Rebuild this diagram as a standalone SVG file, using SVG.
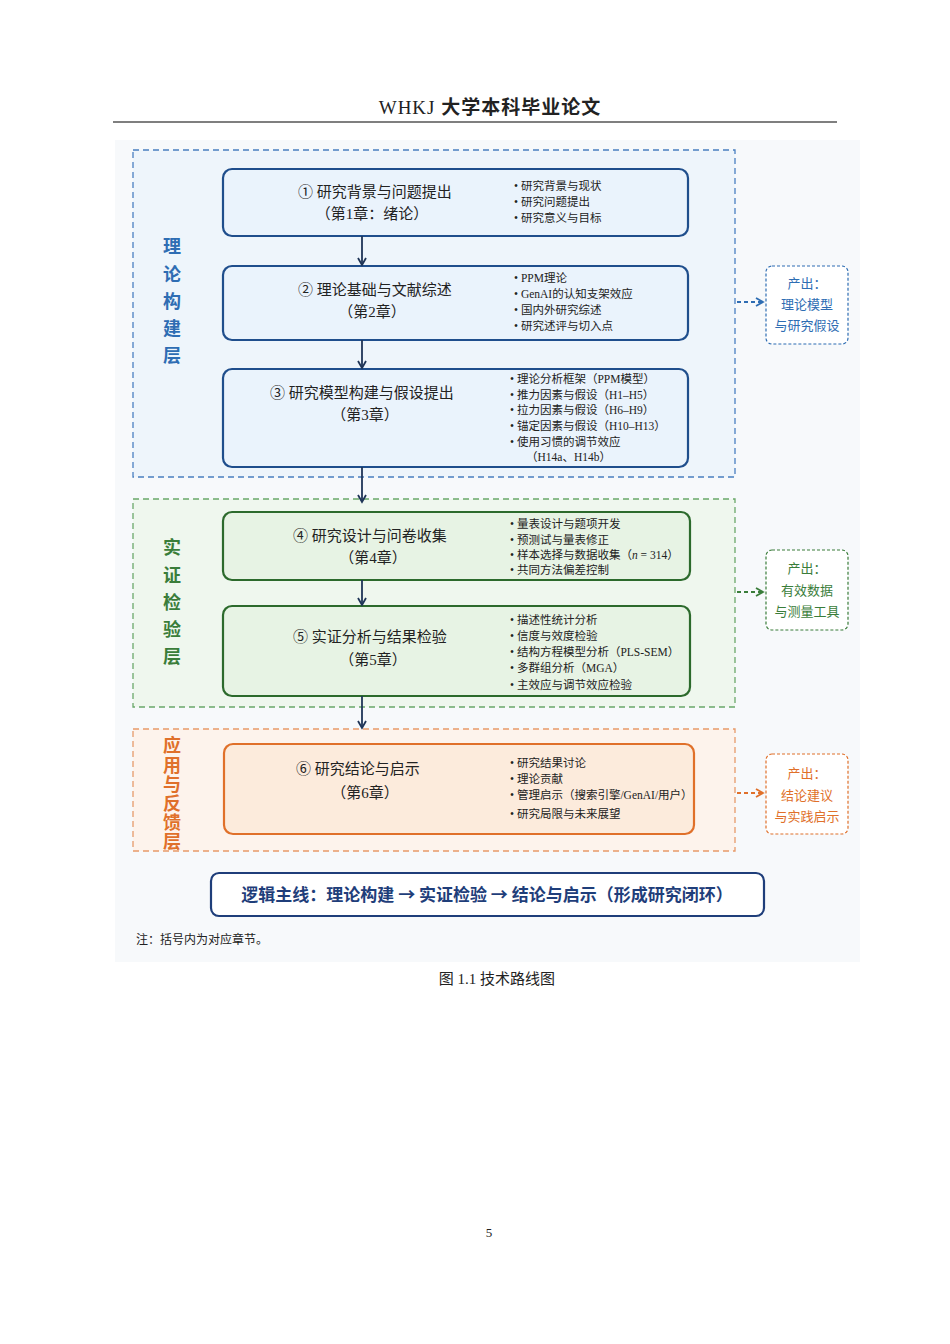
<svg xmlns="http://www.w3.org/2000/svg" width="950" height="1344" viewBox="0 0 950 1344">
<defs>
<style>
text{font-family:"Liberation Serif","Noto Sans CJK SC",serif;fill:#222}
.t{font-size:15px;text-anchor:middle}
.b{font-size:11.5px}
.lay{font-size:18px;font-weight:bold;text-anchor:middle}
.out{font-size:13px;text-anchor:middle}
</style>
<marker id="ad" markerWidth="10" markerHeight="10" refX="8" refY="5" orient="auto" markerUnits="userSpaceOnUse"><path d="M1,1 L8,5 L1,9" fill="none" stroke="#1f3557" stroke-width="1.8"/></marker>
<marker id="ab" markerWidth="10" markerHeight="10" refX="8" refY="5" orient="auto" markerUnits="userSpaceOnUse"><path d="M1,1 L8,5 L1,9" fill="none" stroke="#2e6db3" stroke-width="1.8"/></marker>
<marker id="ag" markerWidth="10" markerHeight="10" refX="8" refY="5" orient="auto" markerUnits="userSpaceOnUse"><path d="M1,1 L8,5 L1,9" fill="none" stroke="#3a7d3a" stroke-width="1.8"/></marker>
<marker id="ao" markerWidth="10" markerHeight="10" refX="8" refY="5" orient="auto" markerUnits="userSpaceOnUse"><path d="M1,1 L8,5 L1,9" fill="none" stroke="#e0702a" stroke-width="1.8"/></marker>
</defs>
<rect width="950" height="1344" fill="#fff"/>
<text x="490" y="114" style="font-size:19px;text-anchor:middle;letter-spacing:1px">WHKJ <tspan font-weight="bold">大学本科毕业论文</tspan></text>
<line x1="113" y1="122" x2="837" y2="122" stroke="#000" stroke-width="1.2"/>
<rect x="115" y="140" width="745" height="822" fill="#f7f9fb"/>
<g id="layer1"><rect x="133" y="150" width="602" height="327" fill="#eef5fb" stroke="#4a7fc0" stroke-width="1.3" stroke-dasharray="6,4"/>
<text class="lay" x="172" y="253" style="fill:#2e6db3">理</text><text class="lay" x="172" y="281" style="fill:#2e6db3">论</text><text class="lay" x="172" y="308" style="fill:#2e6db3">构</text><text class="lay" x="172" y="335" style="fill:#2e6db3">建</text><text class="lay" x="172" y="362" style="fill:#2e6db3">层</text></g>
<g id="layer2"><rect x="133" y="499" width="602" height="208" fill="#eff7ee" stroke="#6aa86a" stroke-width="1.3" stroke-dasharray="6,4"/>
<text class="lay" x="172" y="554" style="fill:#3a7d3a">实</text><text class="lay" x="172" y="582" style="fill:#3a7d3a">证</text><text class="lay" x="172" y="609" style="fill:#3a7d3a">检</text><text class="lay" x="172" y="636" style="fill:#3a7d3a">验</text><text class="lay" x="172" y="663" style="fill:#3a7d3a">层</text></g>
<g id="layer3"><rect x="133" y="729" width="602" height="122" fill="#fdf3ec" stroke="#e79a6a" stroke-width="1.3" stroke-dasharray="6,4"/>
<text class="lay" x="172" y="752" style="fill:#e0702a">应</text><text class="lay" x="172" y="772" style="fill:#e0702a">用</text><text class="lay" x="172" y="791" style="fill:#e0702a">与</text><text class="lay" x="172" y="810" style="fill:#e0702a">反</text><text class="lay" x="172" y="829" style="fill:#e0702a">馈</text><text class="lay" x="172" y="848" style="fill:#e0702a">层</text></g>
<g id="node1"><rect x="223" y="169" width="465" height="67" rx="9" fill="#eaf3fc" stroke="#1f4e8c" stroke-width="2.2"/>
<text class="t" x="375" y="197">①  研究背景与问题提出</text><text class="t" x="372" y="219">（第1章：绪论）</text>
<text class="b" x="514" y="190">• 研究背景与现状</text><text class="b" x="514" y="206">• 研究问题提出</text><text class="b" x="514" y="222">• 研究意义与目标</text></g>
<g id="node2"><rect x="223" y="266" width="465" height="74" rx="9" fill="#eaf3fc" stroke="#1f4e8c" stroke-width="2.2"/>
<text class="t" x="375" y="295">②  理论基础与文献综述</text><text class="t" x="372" y="317">（第2章）</text>
<text class="b" x="514" y="282">• PPM理论</text><text class="b" x="514" y="298">• GenAI的认知支架效应</text><text class="b" x="514" y="314">• 国内外研究综述</text><text class="b" x="514" y="330">• 研究述评与切入点</text></g>
<g id="node3"><rect x="223" y="369" width="465" height="98" rx="9" fill="#eaf3fc" stroke="#1f4e8c" stroke-width="2.2"/>
<text class="t" x="362" y="398">③  研究模型构建与假设提出</text><text class="t" x="365" y="420">（第3章）</text>
<text class="b" x="510" y="383">• 理论分析框架（PPM模型）</text><text class="b" x="510" y="399">• 推力因素与假设（H1–H5）</text><text class="b" x="510" y="414">• 拉力因素与假设（H6–H9）</text><text class="b" x="510" y="430">• 锚定因素与假设（H10–H13）</text><text class="b" x="510" y="446">• 使用习惯的调节效应</text><text class="b" x="526" y="461">（H14a、H14b）</text></g>
<g id="node4"><rect x="223" y="512" width="467" height="68" rx="9" fill="#e7f3e4" stroke="#2c6a2c" stroke-width="2.2"/>
<text class="t" x="370" y="541">④  研究设计与问卷收集</text><text class="t" x="373" y="563">（第4章）</text>
<text class="b" x="510" y="528">• 量表设计与题项开发</text><text class="b" x="510" y="544">• 预测试与量表修正</text><text class="b" x="510" y="559">• 样本选择与数据收集（<tspan font-style="italic">n</tspan> = 314）</text><text class="b" x="510" y="574">• 共同方法偏差控制</text></g>
<g id="node5"><rect x="223" y="606" width="467" height="90" rx="9" fill="#e7f3e4" stroke="#2c6a2c" stroke-width="2.2"/>
<text class="t" x="370" y="642">⑤  实证分析与结果检验</text><text class="t" x="373" y="665">（第5章）</text>
<text class="b" x="510" y="624">• 描述性统计分析</text><text class="b" x="510" y="640">• 信度与效度检验</text><text class="b" x="510" y="656">• 结构方程模型分析（PLS-SEM）</text><text class="b" x="510" y="672">• 多群组分析（MGA）</text><text class="b" x="510" y="689">• 主效应与调节效应检验</text></g>
<g id="node6"><rect x="224" y="744" width="470" height="90" rx="9" fill="#fcebdc" stroke="#e0702a" stroke-width="2.2"/>
<text class="t" x="358" y="774">⑥  研究结论与启示</text><text class="t" x="365" y="798">（第6章）</text>
<text class="b" x="510" y="767">• 研究结果讨论</text><text class="b" x="510" y="783">• 理论贡献</text><text class="b" x="510" y="799">• 管理启示（搜索引擎/GenAI/用户）</text><text class="b" x="510" y="818">• 研究局限与未来展望</text></g>
<g id="out1"><rect x="766" y="266" width="82" height="78" rx="6" fill="#fff" stroke="#2e6db3" stroke-width="1.2" stroke-dasharray="3,2"/>
<text class="out" x="807" y="288" style="fill:#2e6db3">产出：</text><text class="out" x="807" y="309" style="fill:#2e6db3">理论模型</text><text class="out" x="807" y="330" style="fill:#2e6db3">与研究假设</text></g>
<g id="out2"><rect x="766" y="550" width="82" height="80" rx="6" fill="#fff" stroke="#3a7d3a" stroke-width="1.2" stroke-dasharray="3,2"/>
<text class="out" x="807" y="573" style="fill:#3a7d3a">产出：</text><text class="out" x="807" y="595" style="fill:#3a7d3a">有效数据</text><text class="out" x="807" y="616" style="fill:#3a7d3a">与测量工具</text></g>
<g id="out3"><rect x="766" y="754" width="82" height="80" rx="6" fill="#fff" stroke="#e0702a" stroke-width="1.2" stroke-dasharray="3,2"/>
<text class="out" x="807" y="778" style="fill:#e0702a">产出：</text><text class="out" x="807" y="800" style="fill:#e0702a">结论建议</text><text class="out" x="807" y="821" style="fill:#e0702a">与实践启示</text></g>
<g id="connectors" fill="none" stroke-width="1.8">
<line x1="362" y1="236" x2="362" y2="265" stroke="#1f3557" marker-end="url(#ad)"/>
<line x1="362" y1="340" x2="362" y2="368" stroke="#1f3557" marker-end="url(#ad)"/>
<line x1="362" y1="467" x2="362" y2="502" stroke="#1f3557" marker-end="url(#ad)"/>
<line x1="362" y1="580" x2="362" y2="605" stroke="#1f3557" marker-end="url(#ad)"/>
<line x1="362" y1="696" x2="362" y2="728" stroke="#1f3557" marker-end="url(#ad)"/>
<line x1="737" y1="302" x2="763" y2="302" stroke="#2e6db3" stroke-dasharray="4,3" marker-end="url(#ab)"/>
<line x1="737" y1="592" x2="763" y2="592" stroke="#3a7d3a" stroke-dasharray="4,3" marker-end="url(#ag)"/>
<line x1="737" y1="793" x2="763" y2="793" stroke="#e0702a" stroke-dasharray="4,3" marker-end="url(#ao)"/>
</g>
<g id="mainline"><rect x="211" y="873" width="553" height="43" rx="8" fill="#fff" stroke="#1f3e7a" stroke-width="2.2"/>
<text x="487" y="901" style="font-size:17px;font-weight:bold;text-anchor:middle;fill:#1f3e7a;font-family:'Noto Sans CJK SC',sans-serif">逻辑主线：理论构建 → 实证检验 → 结论与启示（形成研究闭环）</text></g>
<text x="136" y="944" style="font-size:12px">注：括号内为对应章节。</text>
<text x="497" y="984" style="font-size:15px;text-anchor:middle">图 1.1  技术路线图</text>
<text x="489" y="1237" style="font-size:13px;text-anchor:middle">5</text>
</svg>
